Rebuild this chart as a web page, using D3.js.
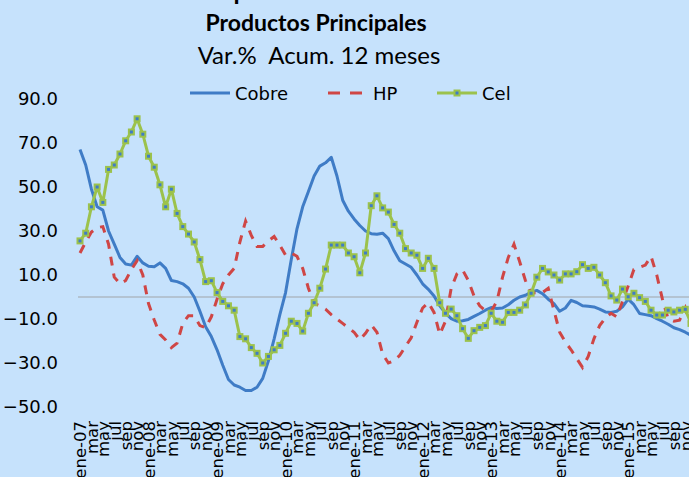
<!DOCTYPE html>
<html>
<head>
<meta charset="utf-8">
<script src="https://cdn.jsdelivr.net/npm/d3@7"></script>
<style>
  body { margin: 0; background: #c6e2fc; }
  svg { display: block; }
</style>
</head>
<body>
<div id="chart"></div>
<script>
const meses = ['ene', 'feb', 'mar', 'abr', 'may', 'jun', 'jul', 'ago', 'sep', 'oct', 'nov', 'dic'];
const years = ['07', '08', '09', '10', '11', '12', '13', '14', '15'];
const months = [];
years.forEach(yy => meses.forEach(m => months.push(m + '-' + yy)));

const cobre = [67,60,49,41,39.5,30,24,18,15,14.5,
  18.5,15.5,14,13.8,15.5,13,7.5,7,6,4,
  0,-6.5,-13.5,-18,-24,-31,-37.5,-40,-41,-42.5,
  -42.5,-41,-37,-29,-19,-8,2,17,31,41,
  48,55,59.5,61,63.5,55,44,39,35.5,32.5,
  30,28.8,28.5,29,26.5,21,16.5,15,13.5,10,
  6,3.5,0.5,-4,-7.3,-9.8,-11,-10.8,-10.2,-8.8,
  -7.5,-6,-4.8,-5.2,-5,-3.5,-1.5,0,0.8,2.2,
  3,1.5,-1,-3,-6.5,-5,-1.5,-2.5,-4,-4.2,
  -4.5,-5.5,-6.8,-7,-6.5,-4.5,-1,-3.5,-7.5,-8,
  -8.5,-9.8,-11,-12.4,-14,-14.8,-16,-17.5];

const hp = [20,25,29.5,31.5,32,24,9,6,7.5,12.5,
  16.5,10,-3,-10.5,-17,-19.5,-23,-21,-12,-8.5,
  -8.5,-13,-14,-9,-1,6,10,13,25,34.5,
  28,23,23,25.5,27.5,23.5,19,20,18.5,13,
  4,-3,-4,-5.5,-8,-10,-12,-14,-16,-19.5,
  -16.5,-12.7,-16,-26,-30,-29,-26.5,-22.5,-18.5,-11.5,
  -5,-2.5,-7,-17,-11,4,10.5,12.3,7.5,0.5,
  -4,-6.3,-6.5,-2,9,18,24,16,7.5,1.7,
  2,2,4,-6,-16,-20.5,-24,-28,-32,-27,
  -19,-13,-9.5,-7.4,-9,-2,5,12.5,13.5,14.5,
  18.5,10,-1,-10,-11,-10.5,-5,-14];

const cel = [25.5,29,41,50,43,58,60,65,71,75,
  81,74,64,59,51,41,49,38,32,28.6,
  25,17,7,7.4,2,-2,-4,-6,-18,-19,
  -23,-25.6,-30,-27,-24,-22,-16.5,-11,-12,-15.5,
  -7.4,-2.6,4,12.7,23.6,23.6,23.6,20,18.3,11,
  20,41.5,46,40.5,38.6,33,29,22,20,19,
  13,17.6,13,-2.6,-7.4,-5.5,-8.5,-14.4,-18.8,-15.3,
  -13.8,-13,-7.4,-11,-11.5,-7,-7,-6,-3.6,1.7,
  9,13,11.4,10,7.7,10.5,10.5,11.5,14.7,13,
  13.5,10,6.5,0.5,-1.4,3.6,0.1,1.7,-0.3,-2,
  -6,-8.2,-8.2,-6,-6.8,-6,-5.6,-12];

const yTicks = [-50, -30, -10, 10, 30, 50, 70, 90];

const width = 689;
const height = 477;
const blue = '#3f7cc6';
const red = '#cf4645';
const green = '#9cc24c';

const svg = d3.select('#chart').append('svg')
  .attr('width', width)
  .attr('height', height);

svg.append('rect')
  .attr('width', width)
  .attr('height', height)
  .attr('fill', '#c6e2fc');

// titles (first line is cut off at the top in the original)
svg.append('text')
  .attr('x', 206).attr('y', 0)
  .attr('font-family', 'Lato, sans-serif')
  .attr('font-weight', 'bold')
  .attr('font-size', 25)
  .text('Exportaciones');

svg.append('text')
  .attr('x', 316).attr('y', 31)
  .attr('text-anchor', 'middle')
  .attr('font-family', 'Lato, sans-serif')
  .attr('font-weight', 'bold')
  .attr('font-size', 23)
  .text('Productos Principales');

svg.append('text')
  .attr('x', 319).attr('y', 64)
  .attr('text-anchor', 'middle')
  .attr('font-family', 'Lato, sans-serif')
  .attr('font-size', 24)
  .style('white-space', 'pre')
  .text('Var.%  Acum. 12 meses');

const x = d3.scalePoint()
  .domain(months)
  .range([80, 691]);

const y = d3.scaleLinear()
  .domain([-50, 90])
  .range([407, 99]);

// y axis
const yAxis = svg.append('g')
  .attr('transform', 'translate(58,0)')
  .call(d3.axisLeft(y).tickValues(yTicks).tickFormat(d3.format('.1f')).tickSize(0).tickPadding(0));
yAxis.select('.domain').remove();
yAxis.selectAll('text')
  .attr('font-family', 'DejaVu Sans, sans-serif')
  .attr('font-size', 18)
  .attr('fill', '#000');

// x axis
const xAxis = svg.append('g')
  .attr('transform', 'translate(0,421)')
  .call(d3.axisBottom(x)
    .tickValues(months.filter((d, i) => i % 2 === 0))
    .tickFormat(d => d.startsWith('ene') ? d : d.slice(0, 3))
    .tickSize(0));
xAxis.select('.domain').remove();
xAxis.selectAll('text')
  .attr('transform', 'rotate(-90)')
  .attr('x', 0)
  .attr('y', 0)
  .attr('dy', '0.35em')
  .attr('text-anchor', 'end')
  .attr('font-family', 'DejaVu Sans, sans-serif')
  .attr('font-size', 16.5)
  .attr('fill', '#000');

// zero line
svg.append('line')
  .attr('x1', 78).attr('x2', width)
  .attr('y1', y(0)).attr('y2', y(0))
  .attr('stroke', '#a0a4a8')
  .attr('stroke-width', 1.2);

const line = d3.line()
  .x((d, i) => x(months[i]))
  .y(d => y(d));

svg.append('path')
  .datum(cobre)
  .attr('d', line)
  .attr('fill', 'none')
  .attr('stroke', blue)
  .attr('stroke-width', 3)
  .attr('stroke-linejoin', 'round');

svg.append('path')
  .datum(hp)
  .attr('d', line)
  .attr('fill', 'none')
  .attr('stroke', red)
  .attr('stroke-width', 3)
  .attr('stroke-dasharray', '9,8');

svg.append('path')
  .datum(cel)
  .attr('d', line)
  .attr('fill', 'none')
  .attr('stroke', green)
  .attr('stroke-width', 3)
  .attr('stroke-linejoin', 'round');

svg.append('g').selectAll('rect')
  .data(cel)
  .enter()
  .append('rect')
  .attr('x', (d, i) => x(months[i]) - 2.5)
  .attr('y', d => y(d) - 2.5)
  .attr('width', 5)
  .attr('height', 5)
  .attr('fill', blue)
  .attr('stroke', green)
  .attr('stroke-width', 2);

// legend
const legend = svg.append('g')
  .attr('font-family', 'DejaVu Sans, sans-serif')
  .attr('font-size', 18);

legend.append('line')
  .attr('x1', 190).attr('x2', 230).attr('y1', 93).attr('y2', 93)
  .attr('stroke', blue).attr('stroke-width', 3);
legend.append('text').attr('x', 235).attr('y', 100).text('Cobre');

legend.append('line')
  .attr('x1', 328).attr('x2', 362).attr('y1', 93).attr('y2', 93)
  .attr('stroke', red).attr('stroke-width', 3)
  .attr('stroke-dasharray', '12,10');
legend.append('text').attr('x', 373).attr('y', 100).text('HP');

legend.append('line')
  .attr('x1', 437).attr('x2', 477).attr('y1', 93).attr('y2', 93)
  .attr('stroke', green).attr('stroke-width', 3);
legend.append('rect')
  .attr('x', 454.5).attr('y', 90.5).attr('width', 5).attr('height', 5)
  .attr('fill', blue).attr('stroke', green).attr('stroke-width', 2);
legend.append('text').attr('x', 482).attr('y', 100).text('Cel');
</script>
</body>
</html>
